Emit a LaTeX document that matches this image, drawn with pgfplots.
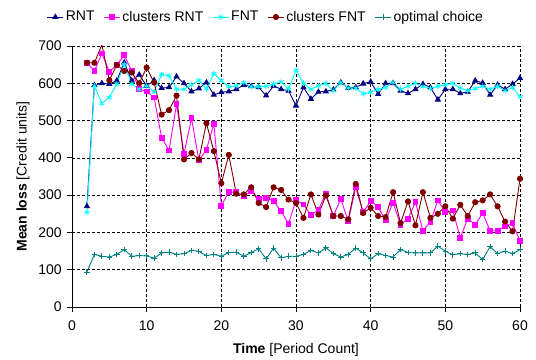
\documentclass[border=0pt]{standalone}
\usepackage{pgfplots}
\pgfplotsset{compat=1.18}
\usepackage{fontspec}
\setmainfont{Liberation Sans}
\definecolor{cRNT}{RGB}{0,0,128}
\definecolor{cCRNT}{RGB}{255,0,255}
\definecolor{cFNT}{RGB}{0,255,255}
\definecolor{cCFNT}{RGB}{128,0,0}
\definecolor{cOPT}{RGB}{0,128,128}
\begin{document}
\fontsize{14bp}{16bp}\selectfont
\begin{tikzpicture}
\begin{axis}[
  at={(0,0)}, anchor=south west,
  scale only axis, width=448bp, height=261bp,
  xmin=0, xmax=60, ymin=0, ymax=700,
  xtick={0,10,...,60}, ytick={0,100,...,700},
  axis x line*=bottom, axis y line*=left,
  axis line style={line width=0.9bp, black},
  tick align=outside, major tick length=4.5bp,
  tick style={black, line width=0.8bp},
  grid=major, major grid style={black, dash pattern=on 3bp off 2bp, line width=0.6bp},
  /pgf/number format/assume math mode=true,
  ticklabel style={font=\fontsize{14bp}{16bp}\selectfont},
  xticklabel style={yshift=-4bp},
  yticklabel style={xshift=-1bp},
  xlabel={\textbf{Time} [Period Count]},
  ylabel={\textbf{Mean loss} [Credit units]},
  every axis x label/.style={at={(axis description cs:0.5,0)}, anchor=center, yshift=-43bp, font=\fontsize{14bp}{16bp}\selectfont},
  every axis y label/.style={at={(axis description cs:0,0.5)}, xshift=-49bp, anchor=center, rotate=90, font=\fontsize{14bp}{16bp}\selectfont},
  legend style={at={(0.433,1.111)}, anchor=center, draw=none, fill=none,
    legend columns=-1, font=\fontsize{14bp}{16bp}\selectfont,
    /tikz/every even column/.append style={column sep=7bp},
    inner sep=0pt},
  legend image code/.code={\draw[mark repeat=2,mark phase=2] plot coordinates {(0bp,0bp) (8bp,0bp) (16bp,0bp)};},
  every axis plot/.append style={line width=0.9bp},
]
\addplot[color=cRNT, mark=triangle*, mark size=2.8bp, mark options={solid}] coordinates {
(2,270)(3,595)(4,600)(5,598)(6,607)(7,656)(8,607)(9,623)(10,593)(11,608)
(12,587)(13,589)(14,618)(15,600)(16,578)(17,586)(18,602)(19,569)(20,576)(21,578)
(22,584)(23,595)(24,592)(25,589)(26,567)(27,593)(28,584)(29,580)(30,540)(31,589)
(32,558)(33,577)(34,578)(35,583)(36,602)(37,587)(38,589)(39,599)(40,604)(41,571)
(42,600)(43,600)(44,580)(45,573)(46,584)(47,598)(48,589)(49,556)(50,584)(51,584)
(52,573)(53,577)(54,607)(55,601)(56,569)(57,596)(58,584)(59,598)(60,614)};
\addlegendentry{RNT}
\addplot[color=cCRNT, mark=square*, mark size=2.4bp] coordinates {
(2,655)(3,633)(4,680)(5,631)(6,649)(7,675)(8,633)(9,584)(10,578)(11,562)
(12,454)(13,420)(14,544)(15,411)(16,506)(17,393)(18,422)(19,491)(20,272)(21,308)
(22,308)(23,297)(24,311)(25,290)(26,293)(27,284)(28,257)(29,223)(30,287)(31,275)
(32,246)(33,261)(34,304)(35,244)(36,290)(37,230)(38,321)(39,254)(40,284)(41,268)
(42,232)(43,280)(44,221)(45,237)(46,281)(47,205)(48,228)(49,286)(50,254)(51,259)
(52,185)(53,237)(54,221)(55,252)(56,204)(57,205)(58,216)(59,225)(60,177)};
\addlegendentry{clusters RNT}
\addplot[color=cFNT, mark=asterisk, mark size=2.8bp, mark options={line width=0.8bp}] coordinates {
(2,254)(3,593)(4,546)(5,562)(6,598)(7,651)(8,598)(9,584)(10,593)(11,577)
(12,624)(13,620)(14,584)(15,584)(16,596)(17,608)(18,585)(19,626)(20,607)(21,591)
(22,593)(23,602)(24,591)(25,591)(26,592)(27,598)(28,604)(29,584)(30,635)(31,600)
(32,584)(33,593)(34,600)(35,580)(36,602)(37,587)(38,587)(39,572)(40,576)(41,584)
(42,589)(43,602)(44,584)(45,592)(46,600)(47,591)(48,586)(49,592)(50,596)(51,600)
(52,587)(53,580)(54,586)(55,592)(56,584)(57,592)(58,580)(59,589)(60,564)};
\addlegendentry{FNT}
\addplot[color=cCFNT, mark=*, mark size=2.6bp] coordinates {
(2,655)(3,655)(4,703)(5,608)(6,649)(7,633)(8,629)(9,600)(10,642)(11,602)
(12,516)(13,528)(14,567)(15,396)(16,413)(17,396)(18,493)(19,418)(20,332)(21,408)
(22,304)(23,302)(24,321)(25,279)(26,268)(27,321)(28,314)(29,288)(30,279)(31,239)
(32,302)(33,248)(34,299)(35,244)(36,244)(37,235)(38,330)(39,252)(40,266)(41,244)
(42,241)(43,308)(44,225)(45,283)(46,219)(47,308)(48,239)(49,250)(50,270)(51,237)
(52,274)(53,244)(54,281)(55,286)(56,302)(57,270)(58,229)(59,203)(60,344)};
\addlegendentry{clusters FNT}
\addplot[color=cOPT, mark=+, mark size=2.8bp, mark options={line width=0.9bp}] coordinates {
(2,94)(3,141)(4,136)(5,134)(6,141)(7,154)(8,136)(9,138)(10,137)(11,131)
(12,145)(13,147)(14,141)(15,143)(16,152)(17,149)(18,138)(19,141)(20,136)(21,146)
(22,147)(23,136)(24,146)(25,156)(26,129)(27,158)(28,132)(29,136)(30,136)(31,141)
(32,152)(33,145)(34,159)(35,143)(36,134)(37,141)(38,158)(39,145)(40,129)(41,143)
(42,138)(43,134)(44,154)(45,146)(46,145)(47,145)(48,145)(49,163)(50,150)(51,140)
(52,143)(53,141)(54,145)(55,127)(56,162)(57,143)(58,150)(59,143)(60,154)};
\addlegendentry{optimal choice}
\end{axis}
\pgfresetboundingbox
\path[use as bounding box] (-72bp,-53bp) rectangle (464bp,307bp);
\end{tikzpicture}
\end{document}
